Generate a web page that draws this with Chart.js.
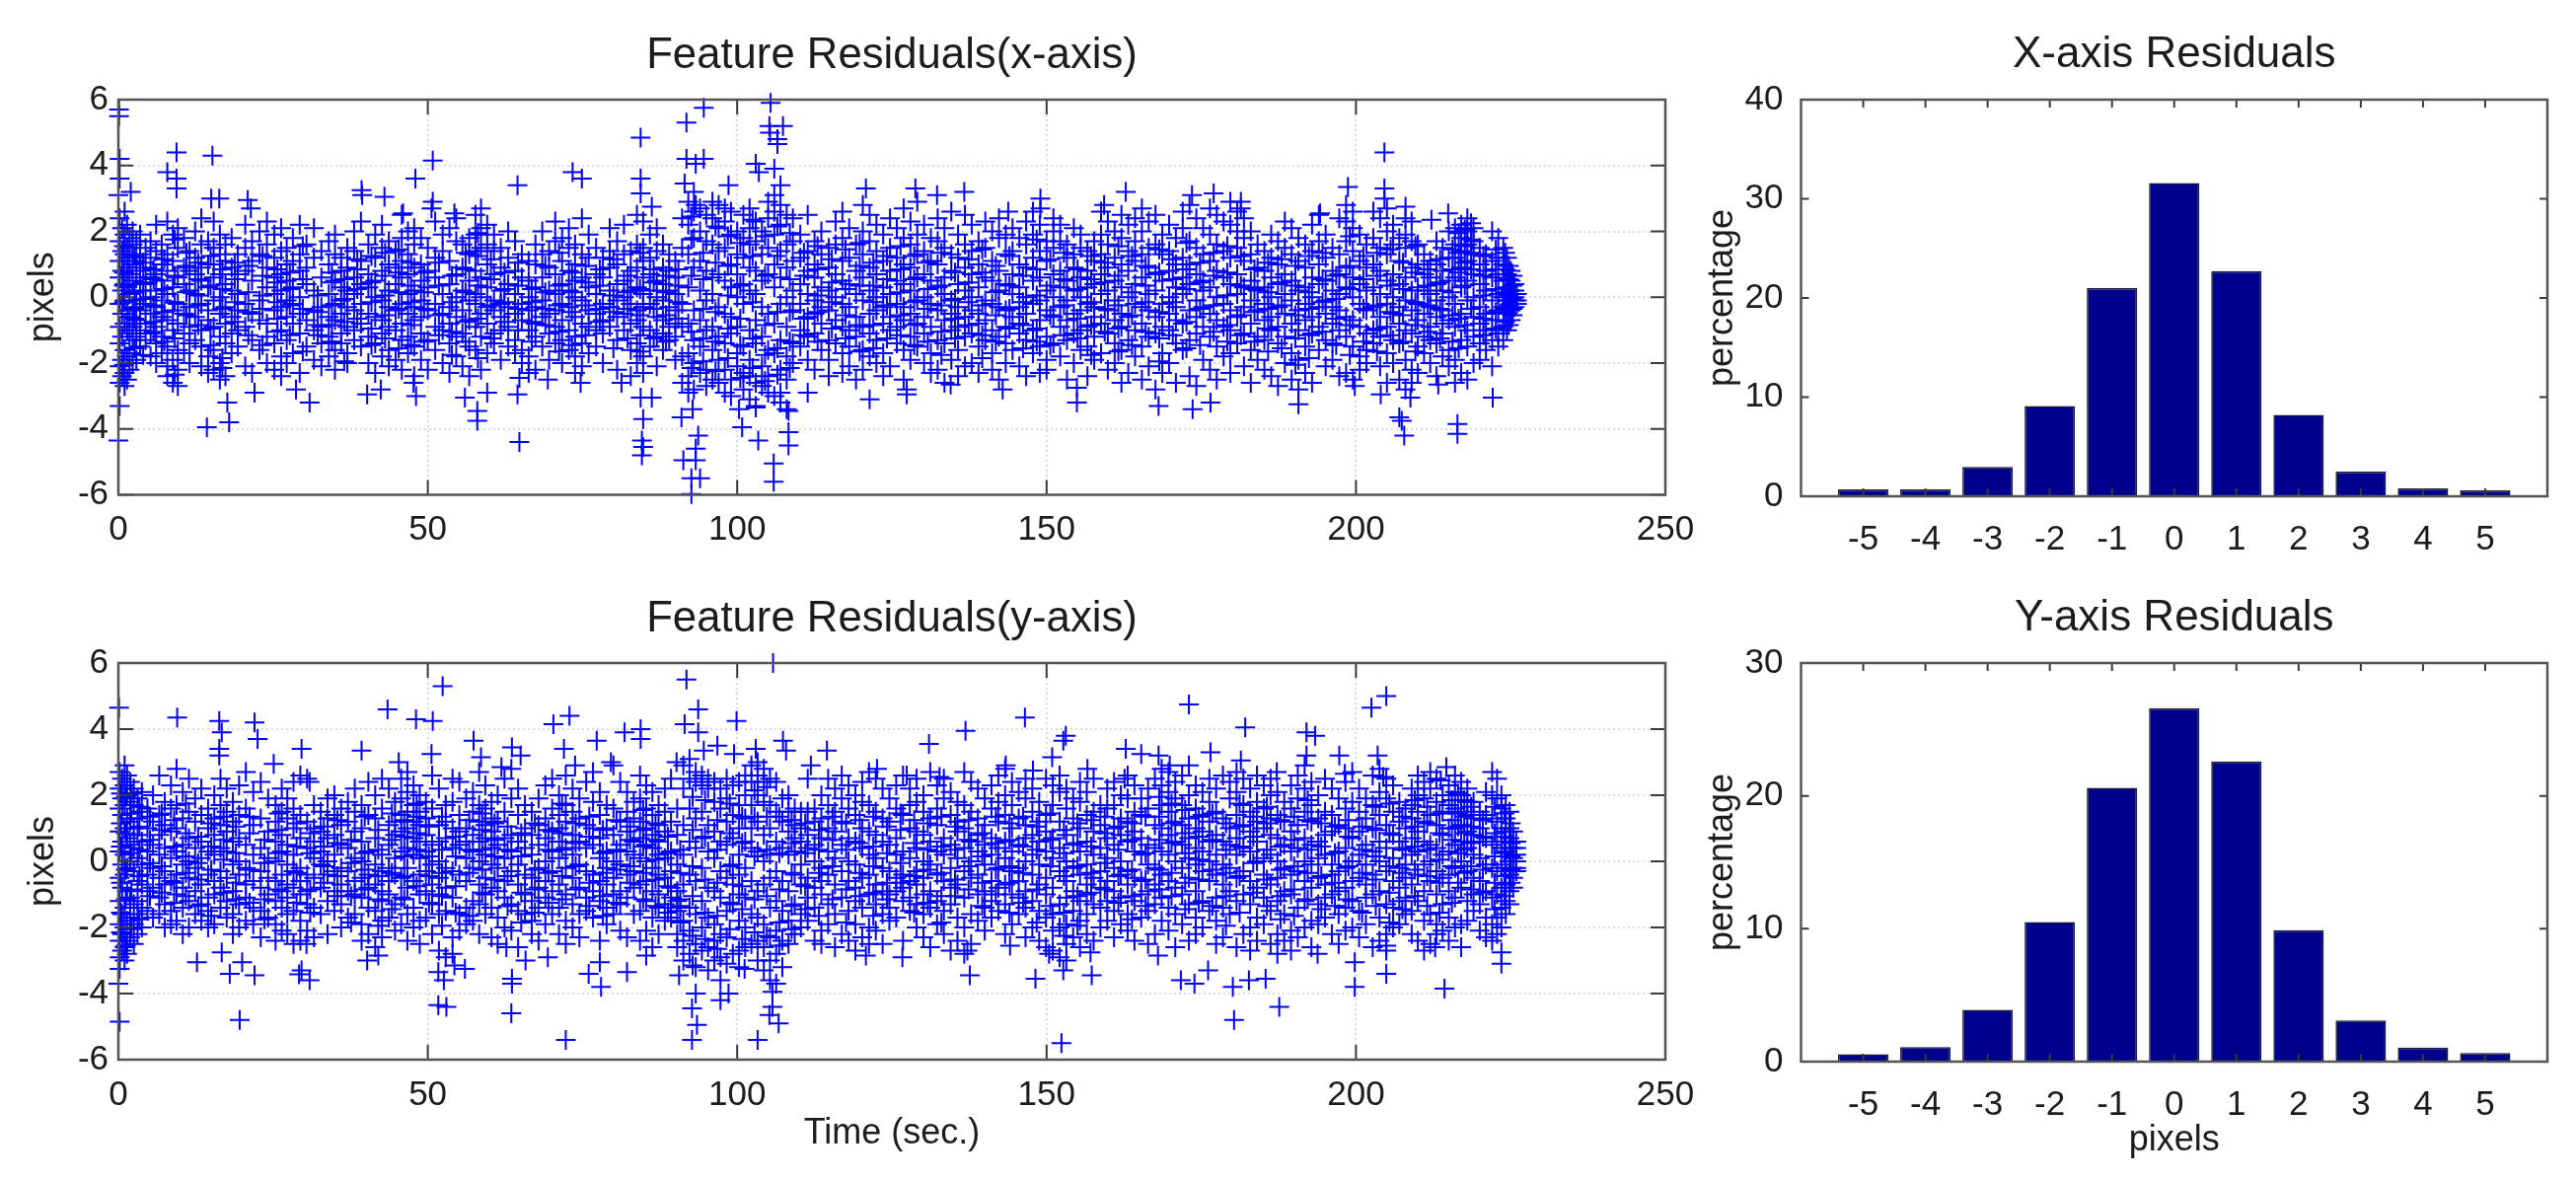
<!DOCTYPE html>
<html>
<head>
<meta charset="utf-8">
<script src="https://cdn.jsdelivr.net/npm/chart.js@4"></script>
<style>
html,body{margin:0;padding:0;background:#fff;width:2611px;height:1198px;overflow:hidden}
canvas{position:absolute}
</style>
</head>
<body>
<canvas id="resX" style="left:0;top:0"></canvas>
<canvas id="resY" style="left:0;top:571px"></canvas>
<canvas id="histX" style="left:1700px;top:0"></canvas>
<canvas id="histY" style="left:1700px;top:571px"></canvas>
<script>
// histogram values
var pixelBins = [-5,-4,-3,-2,-1,0,1,2,3,4,5];
var percentX = [0.7,0.7,2.95,9.1,21,31.6,22.7,8.2,2.5,0.8,0.6];
var percentY = [0.55,1.1,3.9,10.5,20.6,26.6,22.6,9.9,3.1,1.05,0.65];

var timeTicks = [0,50,100,150,200,250];
var pixelTicks = [-6,-4,-2,0,2,4,6];
var percentTicksX = [0,10,20,30,40];
var percentTicksY = [0,10,20,30];

// isolated crosses outside the band: [time, residual]
var outliersX = [[0.1,5.5],[0.1,5.7],[0.2,4.2],[0.2,3.6],[2,3.2],[0,3.1],[9.4,4.4],[15.2,4.3],[7.9,3.8],[9.4,3.6],[9.4,3.3],[15,3],[16.3,3],[20.9,2.95],[21.4,2.7],[39.3,3.25],[39.4,3.1],[43,3.05],[48,3.6],[50.8,4.15],[50.8,2.9],[46,2.55],[50.6,2.7],[54.3,2.55],[64.5,3.4],[73.4,3.8],[74.9,3.6],[84.4,4.85],[84.4,3.6],[84.4,3.15],[86.2,2.75],[91.8,5.3],[94.6,5.75],[91.8,4.2],[94.6,4.2],[93.3,4.05],[91.5,3.45],[93.3,2.8],[98.6,3.4],[103,4.05],[103.5,3.8],[105.4,5.9],[105.2,5.2],[107.4,5.2],[105.3,5],[106.5,4.8],[106.5,4.65],[106,3.9],[107,3.4],
[0.2,-3.3],[0,-4.35],[14.3,-3.95],[17.9,-3.8],[17.6,-3.2],[30.9,-3.2],[22,-2.9],[28.7,-2.8],[40.2,-2.95],[42.4,-2.8],[48.1,-3],[47.7,-2.6],[56,-3.05],[58,-3.75],[58,-3.45],[59.6,-2.9],[64.8,-4.4],[64.5,-2.95],[64.8,-2.45],[69.4,-2.5],[74.7,-2.6],[81.3,-2.6],[84.4,-3.05],[86.2,-3.05],[84.8,-3.7],[84.6,-4.35],[84.8,-4.55],[84.6,-4.8],[91,-3.65],[92.8,-3.4],[93.7,-4.2],[93.3,-4.6],[91.3,-4.95],[93.3,-4.95],[92.6,-5.5],[94,-5.5],[92.6,-5.98],[100.8,-3.95],[103.4,-4.35],[100.3,-3.4],[103,-3.35],[108.3,-4.5],[108.3,-4.1],[108.3,-3.45],[105.9,-5.05],[105.9,-5.6],[111.4,-2.9],
[120.8,3.3],[128.8,3.3],[132.3,3.1],[136.7,3.2],[149,3],[149,2.7],[143.8,2.6],[162.8,3.2],[159.3,2.8],[173.5,3.1],[177,3.15],[181.4,2.9],[181.4,2.7],[198.7,3.35],[204.6,4.4],[204.6,3.3],[204.6,3],[208,2.75],[194.2,2.55],[214.9,2.55],[212.2,2.35],
[121.4,-3.1],[127.4,-2.8],[127.4,-2.95],[134.5,-2.65],[142.9,-2.8],[154.9,-3.2],[154.9,-2.75],[168.1,-3.3],[173.6,-3.4],[176.5,-3.2],[190.7,-3.25],[199.8,-2.7],[207,-3.65],[207.4,-3.75],[207.8,-4.2],[216.4,-3.85],[216.4,-4.15],[222.1,-3.05],[208.8,-3.05],[204,-2.95],[213.3,-2.65]];

var outliersY = [[0.1,4.65],[9.5,4.35],[16.3,4.25],[16.7,3.9],[16.3,3.4],[16.3,3.2],[22,4.2],[22.5,3.7],[29.6,3.4],[25.1,2.95],[30.9,2.4],[39.3,3.35],[43.5,4.6],[48.1,4.3],[50.8,4.25],[52.4,5.3],[50.6,3.25],[45.3,3],[57.4,3.65],[58.6,3.15],[61.9,2.85],[63.6,3.45],[65,3.2],[70.3,4.15],[72.9,4.4],[72,3.4],[73.8,2.9],[77.3,3.65],[81.8,3.9],[84.4,4],[84.4,3.7],[79.6,3],[91.8,5.5],[91.5,4.15],[93.7,4.6],[93.7,3.9],[96.8,3.5],[99.9,4.25],[99.5,3.25],[103,3.4],[105.8,6],[107.9,3.35],[107.4,3.65],[111.9,2.9],[114.5,3.35],[90.2,3],[94.6,3.35],
[0,-3.7],[0.2,-4.85],[0.2,-3.25],[12.7,-3.05],[16.7,-2.75],[18,-3.4],[20,-3.05],[22,-3.45],[19.6,-4.8],[29.6,-3.3],[29.2,-3.42],[30.9,-3.6],[30.4,-2.5],[40.2,-3],[42,-2.85],[51.7,-4.35],[53,-4.4],[51.7,-3.35],[52.6,-3.6],[54.3,-3.15],[56,-3.25],[62.7,-2.6],[63.6,-3.55],[63.6,-3.7],[63.5,-4.6],[65.8,-3],[69.4,-2.9],[72.3,-5.4],[76,-3.4],[78,-3.8],[77.8,-3.05],[82.2,-3.35],[85.3,-2.85],[90.6,-3.45],[92.8,-3.15],[93.3,-4],[92.7,-4.45],[93.5,-4.95],[92.7,-5.4],[97.3,-4.2],[98.6,-4],[103.3,-5.4],[105.7,-3.95],[105.7,-4.4],[105.2,-4.65],[106.7,-4.9],[113.6,-2.5],[101.2,-3.25],
[131,3.55],[136.9,3.95],[122.6,2.8],[127.4,2.6],[132.7,2.55],[143.4,2.9],[146.5,4.35],[147.8,2.75],[152.7,3.65],[153.1,3.8],[150.9,3.15],[156.6,2.8],[162.6,2.5],[162.8,3.4],[165.3,3.25],[168.1,3.2],[169.9,2.9],[173,4.75],[176.5,3.3],[181.4,3.05],[182.1,4.05],[187.2,2.7],[192,3.9],[193.4,3.8],[192,3.2],[197.3,3.2],[198.2,2.65],[202.5,4.65],[204.9,5],[203.5,3.2],[204.4,2.55],[214.6,2.85],[213.7,2.45],
[120.8,-2.85],[126.7,-2.9],[137.6,-3.45],[137.2,-2.7],[144.1,-2.55],[148.2,-3.55],[152.4,-5.5],[152.7,-3.3],[150.4,-2.8],[157.3,-3.45],[157.1,-2.75],[168,-2.85],[171.7,-3.6],[173.9,-3.7],[176.1,-3.3],[180.1,-3.8],[180.3,-4.8],[182.7,-3.6],[185.4,-3.55],[187.6,-4.4],[193.8,-2.8],[199.8,-3.05],[199.8,-3.8],[204.9,-3.4],[204.9,-2.55],[214.3,-3.85],[223.5,-2.75],[223.5,-3.1],[212.8,-2.6]];

// the dense band, estimated frame by frame: [time, residuals...]
var bandX = [
[0.2,2.4,1.7,1.1,0.6,-0.2,-0.9,-1.4,-2.1,-2.6],[0.6,2.1,1.4,0.8,0.2,-0.5,-1.2,-1.9,-2.4],[1,2.6,1.9,1.3,0.4,-0.1,-0.8,-1.6,-2.3,-2.7],[1.4,2.2,1.5,0.9,0.3,-0.4,-1,-1.8,-2.5],[1.8,1.8,1.2,0.7,0.1,-0.6,-1.1,-1.7,-2.2],[2.3,2,1.6,1,0.5,-0.3,-0.9,-1.3,-2],[2.9,1.7,1.1,0.6,-0.1,-0.7,-1.2,-1.9],[3.5,1.9,1.3,0.8,0.2,-0.4,-1,-1.5],[4.4,1.5,0.9,0.4,-0.2,-0.8,-1.3],[5.2,1.7,1.2,0.6,0,-0.5,-1.1,-1.8],
[6.1,2.2,1.4,0.7,0.2,-0.3,-0.9,-1.4,-2],[7,1.6,1,0.5,-0.1,-0.6,-1.2,-1.7],[7.9,2.3,1.3,0.8,0.1,-0.7,-1.5,-2.1,-2.4],[8.8,1.9,1.1,0.3,-0.4,-1,-1.9,-2.6],[9.6,2.1,1.5,0.6,-0.2,-0.8,-1.6,-2.2,-2.7],[10.6,1.8,0.9,0.4,-0.5,-1.1,-1.7],[11.5,1.4,0.8,0.2,-0.3,-0.9,-1.4,-2],[12.4,2,1.2,0.7,0.1,-0.6,-1.3],[13.4,2.4,1.6,0.9,0.5,-0.2,-1,-1.5,-2.1],[14.5,1.7,1,0.3,-0.4,-0.7,-1.8,-2.3],
[15.4,2.3,1.5,1,0.6,-0.1,-0.9,-1.6,-2.2],[16.4,1.9,1.3,0.7,0,-0.5,-1.2,-2,-2.5],[17.3,1.6,1.1,0.4,-0.3,-0.8,-1.4,-2.4],[18.3,1.8,0.9,0.2,-0.6,-1.1,-1.7],[19.3,1.3,0.7,0.1,-0.4,-1,-1.5],[20.5,2.2,1.5,0.8,-0.2,-0.9,-2.1],[21.6,1.7,1.1,0.5,-0.5,-1.3,-2.3],[22.8,2,1.3,-0.1,-0.7,-1.6],[24,2.3,1.6,0.9,0.3,-0.8,-1.2,-2],[25.2,1.9,1.2,0.6,0.1,-0.4,-1.4,-2.2],
[26.3,2.1,1.4,0.7,0.2,-0.3,-1,-1.8,-2.4],[27.2,1.5,1,0.5,-0.1,-0.6,-1.3,-2],[28.2,1.8,1.1,0.3,-0.2,-0.8,-1.7],[29.3,2.2,1.3,0.8,0,-0.5,-1.1,-2.3],[30.4,1.6,0.9,0.4,-0.7,-1.5],[31.6,2.1,1.2,0.2,-0.4,-1,-1.9],[32.8,1.4,0.6,-0.3,-0.9,-1.4,-2.1],[34,1.7,1,0.1,-0.6,-1.2,-1.8],[35,1.9,1.3,0.5,-0.2,-0.7,-1.6,-2.2],[36,1.2,0.8,0.3,-0.1,-0.5,-1.1,-1.4],
[37,1.5,0.9,0.2,-0.3,-0.9,-1.7,-2],[38.1,2,1.4,0.6,0.1,-0.4,-1,-1.3],[39.2,2.3,1.1,0.4,-0.2,-0.8,-1.5],[40.4,1.6,0.7,0.3,-0.5,-1.2,-2],[41.5,1.9,1.2,0.5,0,-0.6,-1.4,-2.3],[42.6,2.2,1.5,0.8,-0.1,-0.7,-1.1,-1.8],[43.7,1.7,1,0.2,-0.3,-0.9,-1.6,-2.1],[44.8,1.4,0.9,0.4,-0.4,-1,-1.9],[45.8,2.5,1.8,1.1,0.6,-0.2,-0.8,-1.3,-2.2],[46.8,2,1.3,0.7,0.1,-0.5,-1.2,-1.7],
[47.8,2.1,1.6,0.9,0.2,-0.3,-0.7,-1.5,-2.4],[48.9,1.8,1,0.5,-0.1,-0.6,-1.1,-1.9],[50,1.5,0.8,0.3,-0.4,-1.3,-2.2],[51.2,2.3,1.2,0.6,-0.2,-0.9,-1.6],[52.4,1.9,1.4,0.1,-0.5,-1,-2],[53.5,2.1,1.1,0.4,-0.3,-0.8,-1.4,-2.3],[54.6,2.4,1.7,0.7,0,-0.6,-1.2,-1.8],[55.6,1.6,0.9,0.2,-0.4,-1.1,-2.1],[56.7,1.8,1.3,0.5,-0.1,-0.7,-1.5,-2.4],[57.7,2.5,1.9,1.4,0.8,0.1,-0.2,-0.9,-1.6],
[58.6,2.7,2.1,1.5,0.6,0,-0.5,-1.2,-2.2],[59.6,2.2,1.6,1,0.3,-0.3,-0.8,-1.7],[60.7,1.9,1.4,0.7,-0.1,-0.4,-1.1,-1.4],[61.8,1.5,0.9,0.2,-0.2,-0.6,-1,-1.9],[63,2,1.2,0.4,-0.3,-0.9,-1.5],[64.1,1.7,0.8,0.1,-0.5,-1.3,-1.7],[65.2,1.3,0.6,-0.2,-0.7,-1.6,-2],[66.3,1.1,0.5,0,-0.4,-1,-1.8,-2.3],[67.4,1.6,1,0.3,-0.3,-0.8,-1.2,-2.2],[68.5,2,1.3,0.6,-0.1,-0.6,-1.5],
[69.6,1.4,0.9,0.2,-0.5,-1.1,-1.9],[70.6,2.3,1.7,0.7,0.1,-0.4,-0.9,-1.4],[71.7,1.8,1.1,0.4,-0.2,-0.7,-1.3,-2],[72.8,2.1,1.5,0.8,0.2,-0.3,-1,-1.6],[73.8,1.6,1,0.5,0,-0.6,-1.2,-1.8,-2.3],[74.9,2.4,1.3,0.6,-0.1,-0.8,-1.4,-2.1],[76,1.9,1.2,0.3,-0.4,-0.9,-1.7],[77.2,1.5,0.7,0.1,-0.5,-1,-1.5],[78.3,1.2,0.6,-0.2,-0.7,-1.1,-2],[79.4,2.1,1.4,0.9,0.2,-0.3,-0.9],
[80.6,1.7,1,0.4,-0.1,-0.6,-1.3,-2.2],[81.7,2.2,1.3,0.5,0,-0.5,-1],[82.8,1.4,0.8,0.2,-0.2,-0.8,-1.6,-2.4],[83.8,2.5,1.6,0.9,0.3,-0.4,-0.7,-1.4,-2],[84.8,2.3,1.5,1.1,0.6,0.1,-0.3,-0.9,-1.8,-2.3],[85.9,1.9,1.2,0.7,0.2,-0.2,-1,-1.5],[87,2.1,1.4,0.5,0,-0.6,-1.2,-2.1],[88,1.6,0.9,0.4,-0.1,-0.7,-1.1,-1.6],[89,1.3,0.8,0.2,-0.3,-0.9,-1.3],[90,1.1,0.6,0.1,-0.4,-0.8,-1.2,-1.9],
[91.1,2.4,1.5,-0.2,-0.9,-1.8,-2.6],[92.1,2.9,2.2,1.3,0.3,-0.8,-1.7,-2.4,-2.9],[93,3.2,2.6,1.8,0.9,-0.4,-1.3,-2,-2.8],[94,2.7,2,1.1,0.2,-0.7,-1.5,-2.3],[95,2.5,1.7,0.8,-0.1,-1,-2.2,-2.7],[96,2.9,2.4,1.6,0.6,0.1,-0.9,-1.6,-2.5],[97,2.8,2.1,1.4,0.7,-0.3,-1.2,-1.9,-2.6],[98,2.7,2.3,1.5,0.5,-0.5,-1.4,-2.2,-2.9],[99,2.6,1.9,1,0.3,-0.6,-1.1,-2.5,-3],[100,2,1.3,0.7,0,-0.9,-1.7,-2.1],
[101,2.5,1.8,1.2,0.4,-0.2,-1.5,-2.3,-2.8],[102,2.7,2.1,1.6,0.9,0.2,-1,-1.9,-2.4,-3.1],[103,2.3,1.7,0.8,0.1,-0.7,-1.4,-2.6,-3.3],[104,2,1.3,0.5,-0.3,-1.2,-2.1,-2.7],[105,2.9,2.4,1.5,0.7,-0.5,-1.6,-2.4,-2.9],[106,3.1,2.6,1.9,1,0.3,-0.8,-1.7,-3],[107,2.8,2.2,1.4,0.6,-0.2,-1.3,-2.2,-2.9,-3.2],[108,2.5,1.6,0.9,0,-0.9,-1.8,-2.5,-3.4],[109,2.4,1.7,1.1,0.2,-0.4,-1.4,-2],[110.2,1.9,1.2,0.4,-0.2,-1,-1.5],
[111.4,2.5,1.4,0.8,0.1,-0.6,-1.2,-1.9],[112.5,1.7,1,0.6,-0.1,-0.5,-1.1,-2.2],[113.6,2,1.3,0.3,-0.3,-0.8,-1.6],[114.8,1.5,0.9,0.2,-0.4,-1.3,-1.9,-2.4],[115.9,2.3,1.6,0.7,0,-0.7,-1.4],[117,2.6,1.8,1.1,0.5,-0.2,-0.9,-1.7,-2.3],[118.1,2.1,1.2,0.4,-0.3,-1,-1.5,-2.1],[119.2,1.6,0.8,0.1,-0.6,-1.2,-2.5],[120.3,2.8,2,1.3,0.6,-0.1,-0.9,-1.6,-2.2],[121.4,2.5,1.7,0.9,0.2,-0.5,-1.1,-1.8],
[122.5,2.2,1.4,0.7,0,-0.4,-1.3,-2],[123.6,1.9,1.1,0.3,-0.3,-0.8,-1.7,-2.4],[124.7,2.4,1.5,0.8,0.1,-0.6,-1,-2.1],[125.8,2.1,1.2,0.5,-0.2,-0.9,-1.4],[126.9,2.7,1.8,1,0.4,-0.3,-0.7,-1.6,-2.5],[128,2.3,1.6,0.9,0.2,-0.5,-1.2,-1.9],[129.1,2.9,1.9,1.3,0.6,-0.1,-0.8,-1.5],[130.2,2.2,1.4,0.7,0,-0.6,-1.1,-2],[131.3,1.8,1.1,0.5,-0.2,-0.9,-1.7,-2.3],[132.4,2.4,1.7,1,0.3,-0.4,-1.3,-2.2],
[133.5,2.1,1.5,0.6,0.1,-0.7,-1.4,-2.6],[134.6,2.6,1.3,0.8,-0.1,-0.5,-1,-1.9],[135.7,1.9,1.2,0.4,-0.3,-0.9,-1.6,-2.4],[136.8,2.5,1.6,0.9,0.2,-0.6,-1.2,-2.1],[137.9,2.2,1.4,0.7,0,-0.4,-1.1,-2],[139,1.7,1,0.3,-0.5,-0.8,-1.5,-2.3],[140.1,2.3,1.5,0.6,-0.1,-0.7,-1.3],[141.2,2,1.1,0.5,-0.2,-1,-1.7,-2.2],[142.3,2.4,1.8,0.8,0.2,-0.3,-1.2,-2.5],[143.4,1.9,1.3,0.4,-0.4,-0.9,-1.4,-2],
[144.5,2.1,1.4,0.7,0.1,-0.6,-1.6],[145.6,1.8,1,0.3,-0.3,-0.8,-1.1,-2.1],[146.7,2.3,1.6,0.9,0,-0.5,-1.3,-2.4],[147.8,2.6,1.9,1.2,0.5,-0.2,-1,-1.7],[148.9,2.2,1.4,0.6,-0.1,-0.7,-1.5,-2.3],[150,1.7,1.1,0.2,-0.4,-1.2,-1.9,-2.2],[151.1,2.4,2,1.5,0.7,0,-0.6,-1.4],[152.2,2.2,1.7,0.8,0.3,-0.3,-0.9,-1.8],[153.3,1.6,1.2,0.5,-0.1,-0.7,-1.3,-2.5],[154.4,2.1,1.3,0.9,0.2,-0.5,-1.1,-2],
[155.5,1.9,1.5,0.6,0,-0.4,-1,-1.6],[156.6,1.4,0.8,0.3,-0.2,-0.9,-1.5,-2.4],[157.7,1.7,1.1,0.4,-0.3,-0.6,-1.2,-1.9],[158.8,2.6,1.9,1.3,0.7,0.1,-0.8,-1.7],[159.9,2.3,1.6,0.9,0.2,-0.4,-1.1,-2.2],[161,2,1.2,0.5,-0.1,-0.7,-1.4,-2],[162.1,2.5,1.8,1,0.3,-0.5,-0.9,-1.6,-2.6],[163.2,2.2,1.4,0.8,0,-0.6,-1.3,-2.3],[164.3,2.4,1.7,1.1,0.4,-0.2,-1,-1.8],[165.4,2.7,2,1.3,0.6,-0.3,-0.8,-1.5,-2.5],
[166.5,2.3,1.5,0.9,0.1,-0.4,-1.2,-2.1],[167.6,2.5,1.6,0.7,0.2,-0.6,-1.1,-2.8],[168.7,1.9,1.3,0.5,-0.2,-0.9,-1.7,-2.3],[169.8,2.2,1.4,0.8,0,-0.5,-1,-2],[170.9,1.8,1,0.3,-0.3,-0.7,-1.4,-2.6],[172,2.6,2.1,1.2,0.6,0.1,-0.8,-1.6],[173.1,2.8,1.7,1,0.4,-0.4,-1.3,-2.4],[174.2,2.4,1.5,0.7,-0.1,-0.6,-1.1,-2.7],[175.3,2.1,1.3,0.5,0.2,-0.3,-0.9,-1.9],[176.4,2.7,1.9,1.1,0.3,-0.5,-1.2,-2.2],
[177.5,2.5,1.6,0.8,0,-0.7,-1.5,-2.5],[178.6,2.3,1.4,0.6,-0.2,-0.9,-1.8],[179.7,2.9,2.2,1.2,0.4,-0.4,-1,-1.7,-2.3],[180.8,2.6,2,1.5,0.7,0.1,-0.6,-1.4],[181.9,2.4,1.8,1.1,0.3,-0.3,-1.1,-2.1],[183,2,1.3,0.5,-0.1,-0.8,-1.6,-2.6],[184.1,1.6,0.9,0.2,-0.4,-1.2,-1.9],[185.2,1.4,0.8,0.3,-0.2,-0.7,-1.3,-2.2],[186.3,1.9,1.2,0.6,0,-0.6,-1,-2.4],[187.4,1.7,1,0.4,-0.3,-0.9,-1.4,-2.7],
[188.5,2.3,1.5,0.7,0.1,-0.5,-1.2,-2],[189.6,2.1,1.3,0.5,-0.1,-0.8,-1.7,-2.5],[190.7,1.8,1.1,0.2,-0.4,-1,-1.9,-2.8],[191.8,1.6,0.9,0.3,-0.2,-0.7,-1.5,-2.3],[192.9,2.2,1.4,0.6,0,-0.6,-1.1,-2.6],[194,2.5,1.7,1,0.4,-0.3,-0.9,-1.6],[195.1,1.9,1.2,0.5,-0.1,-0.5,-1.3,-2.1],[196.2,1.5,0.8,0.2,-0.3,-0.8,-1.4,-1.9],[197.3,2.4,1.3,0.7,0.1,-0.4,-1,-2.4],[198.4,2.8,2.3,1.7,0.9,0.3,-0.6,-1.2,-2.3],
[199.5,2.6,2.1,1.4,0.6,0,-0.7,-1.5,-2.5],[200.6,1.9,1.1,0.4,-0.2,-0.9,-1.8,-2.2],[201.7,1.6,0.9,0.2,-0.4,-1.1,-1.6,-2],[202.8,2.6,1.8,1,0.3,-0.3,-1,-1.4],[203.9,2.4,1.5,0.8,0.1,-0.6,-1.2,-2.1],[205,2.7,2,1.3,0.5,-0.2,-0.9,-1.7,-2.6],[206,2.2,1.6,0.7,0,-0.5,-1.3,-2],[207,1.8,1.1,0.4,-0.3,-0.8,-1.4,-2.5],[208,2.4,1.9,1.5,0.6,-0.1,-1,-1.9,-2.8],[209,2.3,1.7,0.9,0.2,-0.4,-1.1,-2.2,-2.6],
[210,1.6,1,0.3,-0.2,-0.7,-1.5,-2.3],[211,1.3,0.7,0.2,-0.5,-1.2,-1.7],[212,1.1,0.6,0.1,-0.3,-0.9,-1.3,-2],[213,1.7,1,0.4,-0.1,-0.6,-1.4,-2.4],[214,1.5,0.8,0.2,-0.4,-0.8,-1.1,-1.8],[215,2,1.2,0.5,0,-0.7,-1.6,-2.1],[216,2.1,1.6,1.2,0.6,-0.2,-0.9,-1.9,-2.6],[217,2.2,1.8,1.4,0.9,0.3,-0.5,-1.3,-2.3],[218,2.4,2,1.6,1.1,0.5,-0.1,-1,-1.5,-2.5],[219,2.1,1.7,1.3,0.7,0,-0.6,-1.2,-2],
[220,1.5,1,0.4,-0.3,-0.8,-1.4,-1.9],[221,1.3,0.8,0.2,-0.5,-1,-1.6],[222,2,1.1,0.6,-0.1,-0.7,-1.3,-2.1],[223,1.8,1.2,0.7,0.1,-0.4,-1.1,-1.5],[223.8,1.5,1,0.5,0,-0.3,-0.9,-1.3],[224.4,1.2,0.7,0.3,-0.1,-0.5,-1],[225,0.8,0.5,0.2,-0.2,-0.4,-0.7],[225.6,0.4,0.2,0,-0.1,-0.3],[226,0.1,-0.1,-0.2]];

var bandY = [
[0.2,2.7,2.2,1.6,0.9,0.3,-0.5,-1.2,-1.9,-2.4,-2.9],[0.6,2.5,1.9,1.4,0.6,-0.1,-0.8,-1.6,-2.2,-2.7],[1,2.9,2.3,1.7,1,0.2,-0.4,-1.4,-2,-2.6,-3],[1.4,2.6,2,1.3,0.7,-0.2,-0.9,-1.8,-2.4,-2.8],[1.9,2.4,1.8,1.2,0.5,0,-1.1,-1.7,-2.3],[2.5,2.2,1.7,1,0.4,-0.3,-1.3,-1.9,-2.5],[3.1,1.9,1.3,0.8,0.1,-0.6,-1.2,-1.6,-2.2],[3.8,2.1,1.5,0.6,-0.1,-0.7,-1.4,-2],[4.7,1.6,1,0.3,-0.4,-0.9,-1.5],[5.6,2,1.2,0.5,-0.2,-0.8,-1.7],
[6.6,2.6,1.4,0.8,0.2,-0.5,-1.1,-1.6],[7.5,1.8,1.1,0.4,-0.3,-0.7,-1.3,-2],[8.5,2.3,1.6,0.9,0.1,-0.6,-1.5,-1.9],[9.4,2.8,1.7,1,0.3,-0.4,-1,-1.8],[10.4,2.1,1.3,0.5,-0.1,-0.8,-1.4,-2.2],[11.4,2.5,1.5,0.7,0,-0.5,-1.2,-2],[12.4,1.9,1.2,0.4,-0.2,-0.9,-1.6],[13.4,2.2,1.4,0.6,0.1,-0.7,-1.3,-1.8],[14.5,1.6,1,0.3,-0.4,-1.1,-1.5,-2],[15.5,2,1.3,0.8,0.2,-0.6,-1,-1.9],
[16.5,2.5,1.7,1.1,0.4,-0.3,-0.8,-1.4],[17.5,2.2,1.5,0.9,0.3,-0.5,-1.2,-1.7],[18.5,1.8,1.2,0.6,-0.1,-0.9,-1.6,-2.2],[19.5,2.3,1.4,0.7,0,-0.4,-1.3,-2],[20.6,2.7,1.6,0.5,-0.2,-0.7,-1.1,-1.8],[21.8,2.1,1.1,0.2,-0.6,-1.4,-1.9],[23,2.4,1.3,0.4,-0.3,-0.8,-1.5,-2.3],[24.2,1.9,0.9,0.1,-0.5,-1,-1.7],[25.4,1.7,1.2,0.6,0,-0.6,-1.2,-1.9,-2.4],[26.4,2.2,1.5,0.8,0.3,-0.4,-0.9,-1.4,-2.1],
[27.3,1.9,1.3,0.5,-0.1,-0.7,-1.1,-1.6,-2.2],[28.3,2.4,1.6,1,0.2,-0.3,-0.8,-1.5,-2.5],[29.4,2.6,1.4,0.7,-0.2,-0.6,-1,-1.8,-2.4],[30.5,2.5,1.2,0.4,-0.4,-0.9,-1.3,-2.1],[31.6,1.7,1,0.6,0.1,-0.5,-1.4,-2.3],[32.7,1.5,0.9,0.3,-0.1,-0.8,-1.6],[33.8,1.9,1.3,0.7,0,-0.4,-1.2,-2.2],[34.9,2,1.4,0.8,0.2,-0.3,-0.9,-1.5],[36,1.6,1.1,0.5,-0.2,-0.7,-1.3,-2],[37.1,1.8,1.2,0.4,-0.3,-0.9,-1.7],
[38.2,2.2,1.5,0.9,0.1,-0.6,-1,-1.6],[39.3,1.7,1,0.6,0,-0.5,-1.1,-1.9,-2.4],[40.4,2.4,1.4,0.3,-0.4,-0.8,-1.4,-2.2],[41.5,2,1.3,0.7,-0.1,-0.7,-1.5,-2.6],[42.6,2.5,1.6,0.2,-0.3,-0.9,-1.2,-1.8,-2.3],[43.7,2.2,1.1,0.5,-0.2,-0.6,-1,-1.7],[44.7,1.8,1.2,0.8,0.1,-0.4,-1.3,-2.1],[45.7,2.5,1.9,1.4,0.9,0.3,-0.5,-1.1,-1.9],[46.7,2.7,2.1,1.5,1,0.4,-0.2,-0.8,-1.6,-2.4],[47.7,2.3,1.7,1.2,0.7,0.2,-0.6,-1.4,-2],
[48.7,2,1.5,1.1,0.6,0.1,-0.4,-1,-1.8,-2.5],[49.7,1.8,1.3,0.8,0.3,-0.3,-0.9,-1.7],[50.7,2.6,1.6,0.5,-0.1,-0.7,-1.3,-2.2],[51.8,2.2,1.1,0.6,0,-0.5,-1,-1.6,-2.7],[52.9,1.7,1.2,0.7,-0.2,-0.8,-1.5,-2.9],[54,2.5,1.8,1,0.4,-0.3,-1.1,-2.3,-2.8],[55.1,2.4,1.4,0.9,0.5,-0.4,-1.6,-2.1],[56.2,1.9,1,0.6,0.1,-0.6,-1.4,-1.9],[57.3,2.1,1.5,0.8,0.3,-0.2,-1.2,-1.8],[58.3,2.7,1.7,1.2,0.6,0,-0.7,-1.3,-2.2],
[59.3,2.3,1.6,1.1,0.7,0.2,-0.5,-1,-1.6],[60.3,1.8,1.3,0.9,0.4,-0.1,-0.8,-1.4,-2.3],[61.3,2,1.2,0.5,-0.2,-0.9,-1.7,-2.5],[62.4,2.5,1.5,0.7,0.1,-0.6,-1.1,-2],[63.5,2.8,1.9,0.8,0.3,-0.3,-1.3,-2.1],[64.6,2.2,1.4,0.6,-0.1,-0.7,-1.5,-2.6],[65.7,1.7,1,0.4,-0.4,-1,-1.6],[66.8,1.5,0.8,0.2,-0.5,-1.2,-1.8,-2.2],[67.9,1.9,1.1,0.5,-0.2,-0.8,-1.4,-2.4],[69,2.3,1.3,0.7,0,-0.6,-1.1,-1.9],
[70.1,2.5,1.6,0.9,0.3,-0.3,-0.9,-1.6],[71.2,2,1.4,1,0.6,0.1,-0.7,-1.4,-2.2],[72.3,2.6,1.7,1.2,0.4,-0.2,-1,-1.8,-2.5],[73.4,2.2,1.5,0.8,0.2,-0.5,-1.3,-2],[74.5,1.9,1.3,0.6,-0.1,-0.8,-1.6,-2.3],[75.6,2.4,1.1,0.4,-0.3,-1.1,-1.5],[76.7,2.7,1.8,1,0.5,-0.4,-0.9,-1.7],[77.8,2.1,1.4,0.7,0.1,-0.6,-1.2,-2.4],[78.9,1.7,1,0.3,-0.2,-0.7,-1.4,-1.9],[80,2.9,1.6,0.8,0,-0.5,-1,-1.6],
[81.1,2.4,1.2,0.5,-0.1,-0.9,-1.3,-2.1],[82.2,2.1,1.5,0.9,0.3,-0.4,-1.1,-2.3],[83.3,1.8,1.3,0.6,0.2,-0.3,-0.8,-1.6],[84.3,2.6,1.9,1.2,0.7,0.1,-0.7,-1.5,-2.4],[85.3,2.3,1.6,1,0.5,0,-0.6,-1.2,-2.1],[86.3,2.1,1.4,0.8,0.4,-0.2,-0.9,-1.7,-2.6],[87.3,1.7,1.1,0.6,0.2,-0.4,-1,-1.4,-2.2],[88.3,2.2,1.5,0.9,0.1,-0.5,-1.3,-1.8],[89.3,2.5,1.2,0.3,-0.3,-0.8,-1.1,-1.4,-1.7],[90.3,1.6,0.8,-0.1,-0.9,-1.2,-1.5,-2.2,-2.6],
[91.3,2.9,2.2,1.1,0.2,-0.7,-1.8,-2.4,-3],[92.3,3.1,2.5,1.6,0.6,-0.4,-1.4,-2.1,-2.8],[93.3,2.7,2.4,1.3,0.4,-0.6,-1.6,-2.5,-3.2],[94.3,2.6,2.3,1.5,0.7,-0.2,-1.2,-2,-2.7],[95.3,2.5,2.2,1.1,0.3,-0.8,-1.7,-2.6,-3.3],[96.3,2.4,1.8,0.9,0.1,-0.9,-1.9,-2.4,-3],[97.3,2.2,1.6,0.6,-0.3,-1.1,-2.2,-2.9,-3.6],[98.3,2.5,1.9,1.2,0.5,-0.5,-1.5,-2.3,-3.1],[99.3,2.3,1.4,0.7,-0.1,-0.7,-1.3,-2.8],[100.3,2.4,1.7,1,0.2,-0.4,-1,-1.8,-2.7,-3.2],
[101.3,2.6,2,1.3,0.6,-0.2,-1.1,-2,-2.6],[102.3,2.9,2.4,1.7,1,0.4,-0.6,-1.6,-2.5],[103.3,3,2.6,2,1.2,0.3,-0.9,-1.7,-2.4,-3],[104.3,2.8,2.4,1.8,0.8,0,-0.7,-1.9,-2.6,-3.3],[105.3,2.5,1.7,1,0.2,-0.5,-1.4,-2.3,-3,-3.6],[106.3,2.4,1.5,0.6,-0.3,-1.2,-2.1,-2.8,-3.7],[107.3,1.9,1.2,0.4,-0.6,-1.5,-2.4,-3.2],[108.3,2,1.5,0.9,0.2,-0.9,-1.8,-2.5],[109.3,1.6,1.1,0.7,0.3,-0.4,-1.3,-2.2],[110.3,1.5,1,0.6,-0.1,-0.7,-1.6,-2],
[111.4,2.5,1.5,0.8,0.4,-0.5,-1.1,-1.8],[112.5,1.6,1.2,0.5,0,-0.8,-1.4,-2.4],[113.6,2,1.3,0.7,-0.2,-0.6,-1,-2.1],[114.7,2.5,1.7,1,0.3,-0.4,-1.3,-1.9],[115.8,2.2,1.5,0.9,0.1,-0.7,-1.6,-2.6],[116.9,2.6,1.9,1.2,0.5,-0.3,-1.1,-2.2],[118,2.3,1.6,0.7,0,-0.6,-1.5,-2.4],[119.1,2,1.4,0.6,-0.1,-0.8,-1.2,-1.9,-2.7],[120.2,2.4,1.8,1,0.4,-0.5,-1.4,-2.3],[121.3,2.7,1.7,0.9,0.2,-0.4,-1,-2,-2.5],
[122.4,2.5,1.5,0.8,0.1,-0.7,-1.3,-2.1],[123.5,2.2,1.3,0.6,-0.2,-0.9,-1.6,-2.5],[124.6,1.9,1.2,0.5,-0.3,-1,-1.4,-1.8],[125.7,2.3,1.6,0.7,0.2,-0.5,-0.9,-1.7],[126.8,2.6,1.4,0.3,-0.4,-0.8,-1.2,-2.4],[127.9,2.2,1.7,1,0.1,-0.6,-1.1,-1.5],[129,2.5,1.8,0.9,0.4,-0.3,-0.7,-1.3,-2],[130.1,2,1.5,0.8,0,-0.5,-1,-1.6,-2.3],[131.2,2.7,1.3,0.6,-0.1,-0.9,-1.4,-2.6],[132.3,2.3,1.6,1.1,0.3,-0.4,-1.2,-1.9],
[133.4,2.5,1.9,0.7,0.2,-0.6,-1.5,-2.2],[134.5,2.1,1.4,0.5,-0.2,-0.8,-1.3,-2.7],[135.6,1.8,1.2,0.9,0.1,-0.7,-1.7,-2.4],[136.7,2.7,1.7,1,0.4,-0.3,-1.1,-2,-2.8],[137.8,2.4,1.5,0.6,0,-0.5,-1.6,-2.5],[138.9,2.2,1.3,0.8,0.3,-0.4,-1,-1.8],[140,1.9,1.1,0.5,-0.1,-0.9,-1.4,-2.1],[141.1,2.3,1.6,0.7,0.2,-0.6,-1.2,-1.7],[142.2,2.6,1.8,1.2,0.4,-0.2,-0.8,-1.5],[143.3,2.8,2,1.4,0.6,0.1,-0.7,-1.3,-2.2],
[144.4,2.4,1.7,1,0.3,-0.3,-1,-1.9],[145.5,2.1,1.3,0.5,-0.2,-0.6,-1.1,-1.6],[146.6,2.5,1.9,1.1,0.7,0,-0.9,-1.4,-2.3],[147.7,2.2,1.5,0.8,0.2,-0.4,-1.2,-2],[148.8,1.8,1.2,0.6,-0.1,-0.7,-1.5,-2.4],[149.9,2.5,1.4,0.9,0.3,-0.5,-1,-1.7,-2.6],[151,2.3,1.7,0.7,0.1,-0.8,-1.6,-2.1,-2.7],[152.1,2.6,2.1,1.2,0.4,-0.3,-1.3,-2,-2.9],[153.2,2.2,1.6,0.8,0,-0.6,-1.1,-1.9,-2.5,-3],[154.3,1.9,1.3,0.5,-0.2,-0.9,-1.5,-2.3],
[155.4,2.4,1.8,1,0.3,-0.4,-1.2,-1.8,-2.6],[156.5,2.1,1.4,0.6,-0.1,-0.7,-1,-1.6,-2.2],[157.6,2.5,1.5,0.9,0.2,-0.5,-1.3,-2.4],[158.7,1.7,1.1,0.4,-0.3,-0.8,-1.4,-2],[159.8,2.2,1.6,0.7,0.1,-0.6,-1.2,-1.8],[160.9,2.4,1.7,1,0.5,-0.2,-0.9,-1.5,-2.3],[162,2,1.3,0.8,0,-0.4,-1.1,-1.9],[163.1,2.6,1.9,1.2,0.6,-0.3,-0.7,-1.6,-2.1],[164.2,2.3,1.5,0.9,0.3,-0.5,-1.2,-2.4],[165.3,1.9,1.4,0.7,0.2,-0.6,-1,-1.7],
[166.4,2.2,1.6,0.5,-0.1,-0.9,-1.5,-2.5],[167.5,2.5,1.1,0.4,-0.2,-0.7,-1.3,-2.2],[168.6,2.8,2.3,1.7,1,0.3,-0.4,-1.1,-1.8],[169.7,2.7,2.1,1.5,0.8,0.2,-0.6,-1.4,-2.1],[170.8,2.4,1.9,1.2,0.6,0,-0.8,-1.6,-2.6],[171.9,2.6,1.7,1.1,0.5,-0.2,-1,-1.9],[173,2.9,2,1.3,0.7,0.1,-0.5,-1.3,-2.4],[174.1,2.3,1.6,1,0.4,-0.1,-0.9,-1.7,-2.2],[175.2,2.1,1.4,0.9,0.3,-0.3,-1.2,-2],[176.3,2.5,1.8,1.2,0.6,0,-0.6,-1.5],
[177.4,2.2,1.5,0.8,0.2,-0.4,-1.1,-1.8,-2.5],[178.5,2.6,1.3,0.6,-0.1,-0.7,-1.4,-2.3],[179.6,2.4,1.9,1,0.5,-0.2,-0.9,-1.6],[180.7,2.7,2.1,1.4,0.7,0.2,-0.5,-1.2,-2.6],[181.8,2.5,1.7,1.1,0.4,-0.3,-1,-2.2],[182.9,2.2,1.5,0.9,0.3,-0.6,-1.3,-2,-2.7],[184,2.6,1.8,1.2,0.6,0,-0.8,-1.7,-2.4],[185.1,2.3,1.6,1,0.1,-0.4,-1.1,-1.9],[186.2,2.5,2,1.3,0.8,0.2,-0.7,-1.5,-2.5],[187.3,2.1,1.4,0.7,0,-0.5,-1.2,-2.2,-2.8],
[188.4,1.8,1.2,0.5,-0.2,-0.9,-1.6,-2.4],[189.5,2.3,1.6,0.9,0.3,-0.4,-1,-2.1,-2.7],[190.6,2.6,1.9,1.1,0.4,-0.3,-1.4,-2.3],[191.7,2.9,2.2,1.5,0.7,0,-0.6,-1.2,-2],[192.8,2.4,1.7,1.2,0.5,-0.1,-0.8,-1.8,-2.6],[193.9,2,1.3,0.6,0.1,-0.5,-1.3,-1.9],[195,2.5,1.5,0.8,0.2,-0.7,-1.1,-1.7],[196.1,2.2,1.4,0.9,-0.1,-0.4,-1,-2.2],[197.2,1.9,1.1,0.3,-0.3,-0.9,-1.6,-2.5],[198.3,2.4,1.6,1,0.4,-0.2,-0.8,-1.4,-2.1],
[199.4,2.7,1.8,0.7,0,-0.6,-1.2,-2],[200.5,2.2,1.5,0.9,0.2,-0.5,-1.5,-2.3],[201.6,1.9,1.3,0.5,-0.1,-0.7,-1.1,-1.9],[202.7,2.6,1.7,1,0.3,-0.4,-1,-2.6],[203.8,2.8,2.1,1.4,0.6,0,-0.9,-1.7,-2.4],[204.9,2.5,1.9,1.1,0.4,-0.3,-1.3,-2.2,-2.7],[206,2.3,1.5,0.8,0.1,-0.6,-1.4,-2],[207,1.8,1.2,0.6,-0.2,-0.8,-1.2,-1.9],[208,1.6,1,0.4,-0.1,-0.5,-1.1,-1.6],[209,2.2,1.7,1.3,0.7,0.2,-0.7,-1.5,-2.2],
[210,2.6,2,1.5,0.9,0.3,-0.4,-1.2,-2.4],[211,2.4,1.9,1.2,0.6,-0.1,-0.9,-1.8,-2.7],[212,2.7,2.2,1.4,0.5,0,-0.6,-1.6,-2.5],[213,2.5,1.8,1.1,0.4,-0.3,-1,-1.9,-2.2],[214,2,1.5,0.8,0.2,-0.5,-1.3,-2.1],[215,2.3,1.7,1,0.3,-0.4,-0.9,-1.7,-2.4],[216,2.6,2.1,1.6,1,0.5,-0.2,-1.1,-2],[217,2.4,2,1.5,1.1,0.6,0,-0.8,-1.9,-2.6],[218,2.2,1.8,1.4,0.9,0.4,-0.3,-1.2,-1.8],[219,1.8,1.3,0.8,0.2,-0.5,-1,-1.5],
[220,1.5,1,0.6,0.1,-0.6,-1.3,-2.1],[221,2.1,1.4,0.7,-0.1,-0.9,-1.7,-2.3],[222,2.7,2,1.3,0.5,-0.2,-1.1,-1.9,-2.4],[222.8,2.5,1.9,1.2,0.6,-0.3,-1,-1.7,-2.2],[223.5,2,1.6,1,0.4,-0.1,-0.8,-1.4,-2],[224.2,1.7,1.3,0.9,0.3,-0.2,-0.7,-1.2,-1.6],[224.8,1.5,1,0.7,0.4,0,-0.4,-0.9,-1.3],[225.4,0.9,0.6,0.4,0.1,-0.2,-0.5,-0.8],[225.9,0.6,0.4,0.2,0,-0.2,-0.3]];

// extra crosses for the clumps inside the band: [time, residuals...]
var clumpsX = [
[0.9,0.35,-0.15,1.55,-2.05,0.75],[2.6,-0.65,0.15,-1.55,1.25,-0.35],[4,1.05,0.45,-1.75,-0.05],[5.7,-0.25,0.85,-1.05,0.55,-0.75],[7.4,0.25,1.15,-0.45,-1.35],[9.1,-1.25,0.65,-0.15,1.75,-2.35],[11,0.15,-0.55,1.35,0.95],[12.9,0.55,1.05,-0.25,-0.85,0.05],[14.9,-1.45,0.35,-0.95,1.25],[16.8,0.85,-0.35,-1.85,0.25,-2.15],
[18.8,-0.15,0.55,-0.75,1.05],[21,0.95,-1.15,0.15,-0.45],[23.3,1.25,0.65,-0.35,0.05,-1.45],[25.7,0.45,-0.15,0.85,-0.65,-1.05],[27.7,-1.15,0.25,0.75,-0.25],[29.8,0.55,-0.35,1.55,-1.65],[32.2,-0.85,0.05,-0.45,-1.15],[34.5,0.45,-0.25,-0.85,0.75,-1.35],[36.5,-0.75,0.55,-0.05,-1.95],[38.6,0.85,0.25,-0.65,1.15],
[40.9,-0.15,-0.95,0.45,-1.45,1.25],[43.1,0.65,-0.55,0.05,1.35,-1.25],[45.3,1.45,0.75,-0.35,-1.55,0.15],[47.3,0.35,1.05,-0.85,-0.15,-1.45],[49.4,-0.35,0.75,-1.35,0.15],[51.8,1.05,-0.55,0.35,-1.15],[53.9,-0.15,0.65,-1.05,-1.75],[56.1,0.85,0.15,-0.75,-1.35,1.35],[58.1,1.95,1.25,0.35,-0.65,-1.85],[60.2,0.55,1.15,-0.25,-1.25],
[62.4,0.75,-0.15,-0.75,0.25],[64.6,1.05,-0.35,-1,0.35],[66.8,-0.75,0.25,-0.15,-1.35],[69,0.95,0.15,-0.85,-0.35],[71.2,1.35,0.35,-0.25,-1.05,-1.65],[73.3,0.75,-0.45,0.15,-1.45],[75.5,-0.25,0.95,-1.15,0.45],[77.8,0.35,-0.75,0.85,-0.35],[80,1.15,0.05,-0.45,-1.55],[82.3,0.65,-0.35,0.15,-1.25],
[84.3,1.35,0.25,-0.55,-1.15,-1.65],[86.5,0.85,-0.35,0.45,-1.25],[88.5,0.15,-0.55,0.65,-1.35],[90.5,0.35,-0.15,-0.65,0.85],[92.6,1.75,0.65,-1.05,-2.15,2.45],[94.5,1.35,-0.35,-1.25,0.55,-1.95],[96.5,2.15,1.05,-0.45,-1.35,-2.25],[98.5,1.85,0.95,0.05,-0.95,-1.85],[100.5,1.65,0.35,-0.65,-1.45,-2.45],[102.5,2.35,1.25,-0.15,-1.25,-2.15],
[104.5,1.85,0.65,-0.85,-1.75,-2.55],[106.5,2.15,1.25,-0.45,-1.55,-2.35],[108.5,1.95,0.55,-0.45,-1.35,-2.15],[110.8,1.35,0.65,-0.65,-1.15],[113,0.85,0.05,-0.45,-1.35,1.55],[115.3,1.15,-0.15,-0.95,0.45],[117.5,1.45,0.25,-0.55,-1.25],[119.8,0.95,0.35,-0.85,-1.65,1.65],[122,1.05,0.35,-0.15,-0.85,-1.55],[124.2,1.25,0.55,-0.25,-1.25],
[126.4,0.85,0.15,-0.55,-1.15,1.55],[128.6,1.25,0.55,-0.15,-0.85,-1.45],[130.8,1.05,0.25,-0.35,-1.35],[133,1.35,0.35,-0.25,-1.05,-1.75],[135.2,0.75,-0.05,-0.65,-1.25],[137.4,1.15,0.45,-0.15,-0.85],[139.6,1.45,0.75,-0.25,-1.15,-1.85],[141.8,0.95,0.15,-0.55,-1.35],[144,1.25,0.35,-0.35,-0.95],[146.2,0.65,-0.15,-0.85,-1.55],
[148.4,1.75,0.85,0.05,-0.95,-1.35],[150.6,1.15,0.35,-0.55,-1.45],[152.8,1.35,0.55,-0.25,-1.15],[155,0.85,0.25,-0.65,-1.25],[157.2,0.55,-0.15,-0.85,-1.75,1.25],[159.4,1.05,0.45,-0.35,-1.05],[161.6,1.55,0.65,-0.25,-0.95,-1.65],[163.8,1.25,0.15,-0.55,-1.45],[166,0.95,0.35,-0.15,-1.05],[168.2,1.45,0.75,-0.45,-1.25,-1.95],
[170.4,1.15,0.55,-0.15,-1.15],[172.6,1.65,0.85,0.25,-0.75,-1.55],[174.8,1.05,0.45,-0.35,-1.45],[177,1.35,0.65,-0.25,-1.05],[179.2,1.55,0.75,0.05,-0.85,-1.35],[181.4,1.25,0.35,-0.55,-1.15],[183.6,0.85,0.25,-0.45,-1.35],[185.8,1.05,0.15,-0.35,-0.95,-1.65],[188,1.15,0.45,-0.25,-1.55],[190.2,0.95,0.35,-0.55,-1.25,-2.05],
[192.4,1.25,0.15,-0.35,-1.15,-1.85],[194.6,1.35,0.55,-0.15,-1.05],[196.8,0.65,-0.05,-0.65,-1.45],[199,1.85,0.95,0.25,-0.85,-1.75],[201.2,1.25,0.55,-0.35,-1.35],[203.4,1.35,0.65,-0.25,-0.95,-1.65],[205.6,1.45,0.35,-0.45,-1.15],[207.6,1.05,0.25,-0.55,-1.35],[209.6,1.55,0.75,-0.15,-0.85,-1.65],[211.6,0.85,0.35,-0.25,-1.05],
[213.6,1.15,0.45,-0.35,-1.25],[215.6,1.45,0.85,0.15,-0.55,-1.35],[216.6,1.95,1.35,0.75,-0.65,-1.55],[217.6,2.05,1.55,1.05,0.35,-0.85],[218.6,2.25,1.75,1.35,0.85,-0.35],[220.6,1.25,0.65,0.05,-0.65,-1.15],[222.6,1.45,0.85,0.25,-0.45,-0.95],[224.1,1.35,0.85,0.15,-0.35,-0.75],[224.7,0.95,0.55,0.05,-0.25,-0.85],[225.3,0.65,0.35,-0.05,-0.35,-0.55]];

var clumpsY = [
[0.4,1.15,0.45,-0.65,-1.55,2.05,-2.15],[1.2,1.95,0.85,-0.25,-1.15,-2.55],[2.1,1.45,0.25,-0.85,-2.05,2.05],[3.4,1.05,0.35,-0.45,-1.75,1.65],[5.1,1.35,0.65,-0.05,-1.05],[7,0.95,-0.15,-0.95,1.45],[9,1.25,0.45,-0.65,-1.25],[10.9,0.85,0.15,-0.35,-1.05,1.75],[12.9,0.75,-0.05,-0.55,-1.35],[15,1.15,0.45,-0.25,-1.65],
[17,0.65,1.35,0.05,-0.95],[19,1.05,0.25,-0.65,-1.15],[21.2,1.35,0.85,-0.25,-1.25],[23.6,0.65,-0.05,-1.15,-1.75],[25.9,1.45,0.95,0.25,-0.85],[28.8,1.15,0.45,-0.35,-1.25],[31,0.85,0.25,-0.85,-1.55],[33.2,1.05,0.45,-0.15,-0.65],[35.4,1.25,0.55,-0.45,-1.05],[37.6,0.65,-0.05,-1.05,-1.85],
[39.8,1.35,0.25,-0.25,-0.85],[42,0.95,0.35,-0.45,-1.15,-1.95],[44.2,1.45,0.65,-0.35,-1.45],[46.2,1.25,0.75,0.15,-0.45,-1.15],[48.2,1.75,1.35,0.85,0.35,-0.75],[50.2,1.05,0.15,-0.45,-1.25],[52.3,1.35,0.35,-0.35,-1.05,-1.95],[54.5,0.75,0.15,-0.75,-1.55],[56.7,1.25,0.35,-0.35,-1.65],[58.8,1.45,0.95,0.35,-0.25,-0.95],
[60.8,1.15,0.65,0.15,-0.55],[62.9,1.05,0.35,-0.45,-1.35],[65.1,0.85,0.15,-0.95,-1.85],[67.3,1.15,-0.25,-0.85,-1.55],[69.5,0.95,0.35,-0.35,-1.25],[71.7,1.75,0.85,0.35,-0.45,-1.15],[73.9,1.15,0.55,-0.15,-0.85],[76.1,1.35,0.75,-0.65,-1.35],[78.3,0.95,0.25,-0.35,-1.05,-1.65],[80.5,1.25,0.35,-0.25,-1.25],
[82.7,1.05,0.65,-0.15,-0.65],[84.8,1.55,0.95,0.45,-0.35,-1.15],[86.8,1.15,0.65,0.05,-0.55,-1.35],[88.8,0.75,0.25,-0.75,-1.55],[90.8,0.35,-0.35,-1.15,-1.35,-1.85],[92.8,1.95,0.95,-0.15,-1.05,-2.25],[94.8,1.85,0.75,-0.55,-1.55,-2.35],[96.8,1.25,0.35,-0.65,-1.65,-2.65],[98.8,1.75,0.85,-0.15,-1.25,-2.05],[100.8,1.35,0.55,-0.75,-1.45,-2.35],
[102.8,2.15,1.35,0.15,-1.15,-2.15],[104.8,2.25,1.35,0.35,-1.05,-2.25],[106.8,1.35,0.25,-0.85,-1.85,-2.55],[108.8,1.25,0.55,-0.35,-1.35,-2.05],[111,1.15,0.25,-0.75,-1.45],[113.2,0.95,0.35,-0.35,-1.65],[115.4,1.35,0.65,-0.15,-1.15],[117.6,1.15,0.35,-0.85,-1.85],[119.8,1.25,0.55,-0.35,-1.05],[122,1.35,0.45,-0.15,-0.95,-1.65],
[124.2,1.05,0.25,-0.65,-1.15],[126.4,1.45,0.95,-0.05,-0.65],[128.6,1.25,0.55,-0.45,-1.55],[130.8,1.15,0.35,-0.25,-1.25],[133,1.35,0.45,-0.35,-1.05,-1.85],[135.2,1.05,0.35,-0.55,-1.05],[137.4,1.25,0.65,-0.15,-0.85],[139.6,0.85,0.15,-0.65,-1.35],[141.8,1.35,0.55,-0.25,-1],[144,1.15,0.65,-0.15,-0.65,-1.55],
[146.2,1.35,0.45,-0.35,-1.25],[148.4,1.05,0.35,-0.85,-1.85],[150.6,1.45,0.65,-0.15,-1.35],[152.8,0.95,0.25,-0.45,-1.55,-2.25],[155,1.15,0.55,-0.15,-1.05,-1.95],[157.2,1.25,0.45,-0.35,-0.95],[159.4,1.35,0.85,-0.05,-0.85],[161.6,1.05,0.35,-0.45,-1.25],[163.8,1.15,0.65,-0.25,-1.05,-1.75],[166,1.35,0.25,-0.55,-1.35],
[168.2,1.95,1.35,0.65,-0.25,-0.85],[170.2,1.75,1.15,0.55,-0.35,-1.05],[172.4,1.55,0.85,0.25,-0.65,-1.45],[174.6,1.35,0.75,0.05,-0.55,-1.25],[176.8,1.45,0.65,-0.25,-1.35],[179,1.15,0.35,-0.35,-1.05,-1.95],[181.2,1.75,1.05,0.45,-0.45,-1.55],[183.4,1.35,0.75,-0.05,-0.95],[185.6,1.65,1.15,0.35,-0.55,-1.35],[187.8,1.25,0.45,-0.25,-1.05,-1.75],
[190,1.35,0.65,-0.15,-0.85,-1.65],[192.2,1.85,1.25,0.35,-0.35,-1.15],[194.4,1.15,0.45,-0.45,-1.45],[196.6,1.05,0.25,-0.65,-1.35],[198.8,1.25,0.75,-0.15,-1.15],[201,1.05,0.35,-0.35,-1.55],[203.2,1.65,0.95,0.15,-0.55,-1.35],[205.4,1.75,0.85,-0.15,-0.95,-1.85],[207.5,1.35,0.35,-0.35,-1.45],[209.5,1.85,1.05,0.45,-0.25,-1.05],
[211.5,1.65,1.15,0.35,-0.45,-1.35],[213.5,1.45,0.85,0.05,-0.65,-1.55],[215.5,1.85,1.25,0.65,-0.15,-1.25],[216.5,2.05,1.45,1.05,0.25,-0.65],[217.5,1.85,1.35,0.85,0.35,-0.35],[218.6,1.65,1.05,0.55,-0.15,-0.85],[220.5,1.25,0.75,-0.25,-0.95],[222.4,1.65,0.85,0.15,-0.65,-1.45],[224,1.45,0.75,0.25,-0.45,-1.05],[225,1.15,0.55,0.15,-0.25,-0.65]];

var blue = "#0000ff";
var barBlue = "#00008f";
var titleFont = {family:"Liberation Sans",size:43.7,lineHeight:1,weight:"normal"};
var sideTitleFont = {family:"Liberation Sans",size:44,lineHeight:1,weight:"normal"};
var labelFont = {family:"Liberation Sans",size:36,lineHeight:1.2};
var tickFont = {family:"Liberation Sans",size:35};
var ink = "#1c1c1c";

function toPoints(band, clumps, outliers){
    var pts = [];
    band.concat(clumps).forEach(function(frame){
        for(let i = 1; i < frame.length; i++){
            pts.push({x:frame[0],y:frame[i]});
        }
    });
    outliers.forEach(function(p){ pts.push({x:p[0],y:p[1]}); });
    return pts;
}

// matlab style box with the ticks pointing inwards
var matlabBox = {
    id:"matlabBox",
    afterDraw(chart,args,opts){
        let ctx = chart.ctx, a = chart.chartArea;
        let xs = chart.scales.x, ys = chart.scales.y;
        ctx.save();
        ctx.strokeStyle = "#3a3a3a";
        ctx.lineWidth = 2;
        xs.ticks.forEach(function(t){
            let px = xs.getPixelForValue(t.value);
            ctx.beginPath();
            ctx.moveTo(px,a.top); ctx.lineTo(px,a.top+opts.tick);
            ctx.moveTo(px,a.bottom); ctx.lineTo(px,a.bottom-opts.tick);
            ctx.stroke();
        });
        ys.ticks.forEach(function(t){
            let py = ys.getPixelForValue(t.value);
            ctx.beginPath();
            ctx.moveTo(a.left,py); ctx.lineTo(a.left+opts.tick,py);
            ctx.moveTo(a.right,py); ctx.lineTo(a.right-opts.tick,py);
            ctx.stroke();
        });
        ctx.strokeStyle = "#555";
        ctx.lineWidth = 2.5;
        ctx.strokeRect(a.left,a.top,a.width,a.height);
        ctx.restore();
    }
};

function residualChart(id, w, h, titleText, pts, xHeight, xTitle){
    let el = document.getElementById(id);
    el.width = w; el.height = h;
    el.style.width = w+"px"; el.style.height = h+"px";
    return new Chart(el, {
        type:"scatter",
        data:{datasets:[{
            data:pts,
            pointStyle:"cross",
            pointRadius:10,
            pointBorderWidth:2,
            borderColor:blue,
            pointBorderColor:blue,
            clip:false
        }]},
        plugins:[matlabBox],
        options:{
            responsive:false,
            devicePixelRatio:1,
            animation:false,
            layout:{padding:{right:w-1688,left:0,top:0,bottom:0}},
            plugins:{
                legend:{display:false},
                tooltip:{enabled:false},
                matlabBox:{tick:15},
                title:{display:true,text:titleText,font:titleFont,color:ink,fullSize:false,padding:{top:35,bottom:22.3}}
            },
            scales:{
                x:{
                    type:"linear",min:0,max:250,
                    afterBuildTicks(s){ s.ticks = timeTicks.map(function(v){return {value:v};}); },
                    afterFit(s){ s.height = xHeight; },
                    grid:{color:"#dcdcdc",lineWidth:2,drawTicks:false},
                    border:{display:false,dash:[2,3]},
                    title:{display:!!xTitle,text:xTitle,font:labelFont,color:ink,padding:{top:0,bottom:27}},
                    ticks:{font:tickFont,color:ink,padding:15,maxRotation:0,autoSkip:false}
                },
                y:{
                    min:-6,max:6,
                    afterBuildTicks(s){ s.ticks = pixelTicks.map(function(v){return {value:v};}); },
                    afterFit(s){ s.width = 120; },
                    grid:{color:"#dcdcdc",lineWidth:2,drawTicks:false},
                    border:{display:false,dash:[2,3]},
                    title:{display:true,text:"pixels",font:labelFont,color:ink,padding:{top:22,bottom:0}},
                    ticks:{font:tickFont,color:ink,padding:10,autoSkip:false}
                }
            }
        }
    });
}

function histChart(id, h, titleText, values, maxY, yTicks, plotBottomH, xTitle){
    let el = document.getElementById(id);
    el.width = 911; el.height = h;
    el.style.width = "911px"; el.style.height = h+"px";
    return new Chart(el, {
        type:"bar",
        data:{datasets:[{
            data:pixelBins.map(function(b,i){ return {x:b,y:values[i]}; }),
            backgroundColor:barBlue,
            borderColor:"#1a1a2a",
            borderWidth:1.5,
            barPercentage:0.81,
            categoryPercentage:1
        }]},
        plugins:[matlabBox],
        options:{
            responsive:false,
            devicePixelRatio:1,
            animation:false,
            layout:{padding:{right:29,left:0,top:0,bottom:0}},
            plugins:{
                legend:{display:false},
                tooltip:{enabled:false},
                matlabBox:{tick:8},
                title:{display:true,text:titleText,font:sideTitleFont,color:ink,fullSize:false,padding:{top:34,bottom:23}}
            },
            scales:{
                x:{
                    type:"linear",min:-6,max:6,offset:false,
                    afterBuildTicks(s){ s.ticks = pixelBins.map(function(v){return {value:v};}); },
                    afterFit(s){ s.height = plotBottomH; },
                    grid:{display:false},
                    border:{display:false},
                    title:{display:!!xTitle,text:xTitle,font:labelFont,color:ink,padding:{top:0,bottom:20}},
                    ticks:{font:tickFont,color:ink,padding:15,maxRotation:0,autoSkip:false}
                },
                y:{
                    min:0,max:maxY,
                    afterBuildTicks(s){ s.ticks = yTicks.map(function(v){return {value:v};}); },
                    afterFit(s){ s.width = 125.5; },
                    grid:{display:false},
                    border:{display:false},
                    title:{display:true,text:"percentage",font:labelFont,color:ink,padding:{top:24,bottom:0}},
                    ticks:{font:tickFont,color:ink,padding:10,autoSkip:false}
                }
            }
        }
    });
}

residualChart("resX",1740,590,"Feature Residuals(x-axis)",toPoints(bandX,clumpsX,outliersX),88.5,"");
residualChart("resY",1740,627,"Feature Residuals(y-axis)",toPoints(bandY,clumpsY,outliersY),124,"Time (sec.)");
histChart("histX",590,"X-axis Residuals",percentX,40,percentTicksX,87,"");
histChart("histY",627,"Y-axis Residuals",percentY,30,percentTicksY,122,"pixels");
</script>
</body>
</html>
